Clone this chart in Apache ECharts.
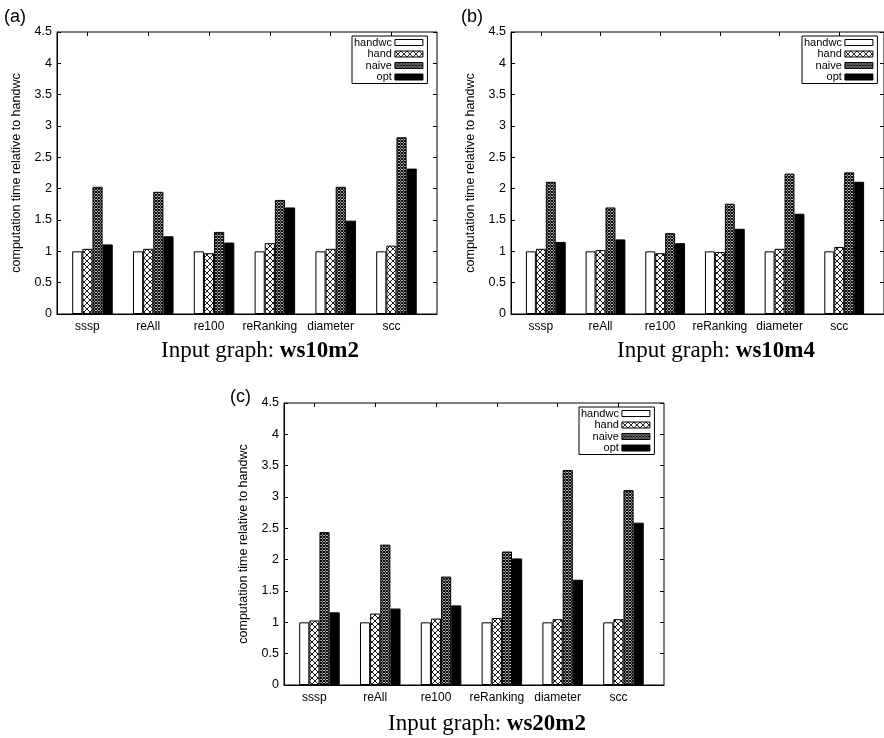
<!DOCTYPE html>
<html><head><meta charset="utf-8">
<script src="https://cdn.jsdelivr.net/npm/echarts@6/dist/echarts.min.js"></script>
<style>html,body{margin:0;padding:0;background:#fff}#c{width:884px;height:738px}</style>
</head><body><div id="c"></div>
<script>
// ---- data ----
const categories = ['sssp', 'reAll', 're100', 'reRanking', 'diameter', 'scc'];
const seriesNames = ['handwc', 'hand', 'naive', 'opt'];
const yTickMin = 0, yTickMax = 4.5, yTickStep = 0.5;
const panelLabels = ['(a)', '(b)', '(c)'];
const graphNames = ['ws10m2', 'ws10m4', 'ws20m2'];

const ws10m2_handwc = [1.00, 1.00, 1.00, 1.00, 1.00, 1.00];
const ws10m2_hand   = [1.04, 1.04, 0.97, 1.13, 1.04, 1.09];
const ws10m2_naive  = [2.03, 1.95, 1.31, 1.82, 2.03, 2.82];
const ws10m2_opt    = [1.11, 1.24, 1.14, 1.70, 1.49, 2.32];

const ws10m4_handwc = [1.00, 1.00, 1.00, 1.00, 1.00, 1.00];
const ws10m4_hand   = [1.04, 1.02, 0.97, 0.99, 1.04, 1.07];
const ws10m4_naive  = [2.11, 1.70, 1.29, 1.76, 2.24, 2.26];
const ws10m4_opt    = [1.15, 1.19, 1.13, 1.36, 1.60, 2.11];

const ws20m2_handwc = [1.00, 1.00, 1.00, 1.00, 1.00, 1.00];
const ws20m2_hand   = [1.03, 1.14, 1.06, 1.07, 1.05, 1.05];
const ws20m2_naive  = [2.44, 2.24, 1.73, 2.13, 3.43, 3.11];
const ws20m2_opt    = [1.16, 1.22, 1.27, 2.02, 1.68, 2.59];

const panelData = [
  [ws10m2_handwc, ws10m2_hand, ws10m2_naive, ws10m2_opt],
  [ws10m4_handwc, ws10m4_hand, ws10m4_naive, ws10m4_opt],
  [ws20m2_handwc, ws20m2_hand, ws20m2_naive, ws20m2_opt]
];

// ---- layout / style ----
const layout = [
  { left: 57,  top: 32,  label: [4, 17],   sub: [260, 351], legend: [352, 36] },
  { left: 511, top: 32,  label: [461, 17], sub: [716, 351], legend: [802, 36] },
  { left: 284, top: 403, label: [230, 397], sub: [487, 724], legend: [579, 407] }
];
const PW = 380, PH = 282;
const SANS = 'Liberation Sans, Arial, sans-serif';
const SERIF = 'Liberation Serif, Times New Roman, serif';

function makePattern(kind) {
  const c = document.createElement('canvas');
  const s = kind === 'hand' ? 6 : 3;
  c.width = s; c.height = s;
  const g = c.getContext('2d');
  g.fillStyle = '#fff'; g.fillRect(0, 0, s, s);
  g.strokeStyle = '#000';
  g.lineWidth = kind === 'hand' ? 0.9 : 1.1;
  g.beginPath();
  g.moveTo(0, 0); g.lineTo(s, s);
  g.moveTo(s, 0); g.lineTo(0, s);
  g.stroke();
  return { image: c, repeat: 'repeat' };
}
const fills = ['#ffffff', makePattern('hand'), makePattern('naive'), '#000000'];

const grid = [], xAxis = [], yAxis = [], series = [], legend = [], graphic = [];
const xTickVals = categories.map((_, i) => i);
const clusterShift = 1 / 12;

layout.forEach((L, p) => {
  grid.push({ left: L.left, top: L.top, width: PW, height: PH, show: true,
    borderColor: '#000', borderWidth: 1, backgroundColor: 'transparent', containLabel: false });
  // bottom x
  xAxis.push({ gridIndex: p, type: 'value', min: -0.5, max: 5.75, position: 'bottom',
    axisLine: { show: true, onZero: false, lineStyle: { color: '#000', width: 1 } },
    splitLine: { show: false },
    axisTick: { show: true, inside: true, length: 4, customValues: xTickVals, lineStyle: { color: '#000' } },
    axisLabel: { show: true, customValues: xTickVals, color: '#000', fontFamily: SANS, fontSize: 12, margin: 7,
      formatter: v => categories[Math.round(v)] }
  });
  // top mirror x
  xAxis.push({ gridIndex: p, type: 'value', min: -0.5, max: 5.75, position: 'top',
    axisLine: { show: false, onZero: false }, splitLine: { show: false },
    axisTick: { show: true, inside: true, length: 4, customValues: xTickVals, lineStyle: { color: '#000' } },
    axisLabel: { show: false }
  });
  yAxis.push({ gridIndex: p, type: 'value', min: yTickMin, max: yTickMax, interval: yTickStep, position: 'left',
    name: 'computation time relative to handwc', nameLocation: 'middle', nameRotate: 90, nameGap: 34,
    nameTextStyle: { color: '#000', fontFamily: SANS, fontSize: 12.5 },
    axisLine: { show: true, onZero: false, lineStyle: { color: '#000', width: 1 } },
    splitLine: { show: false },
    axisTick: { show: true, inside: true, length: 4, lineStyle: { color: '#000' } },
    axisLabel: { color: '#000', fontFamily: SANS, fontSize: 12.5, margin: 5 }
  });
  yAxis.push({ gridIndex: p, type: 'value', min: yTickMin, max: yTickMax, interval: yTickStep, position: 'right',
    axisLine: { show: false, onZero: false }, splitLine: { show: false },
    axisTick: { show: true, inside: true, length: 4, lineStyle: { color: '#000' } },
    axisLabel: { show: false }
  });
  seriesNames.forEach((nm, k) => {
    series.push({
      name: nm, type: 'bar', xAxisIndex: p * 2, yAxisIndex: p * 2,
      barWidth: '16.67%', barGap: '0%',
      itemStyle: { color: fills[k], borderColor: '#000', borderWidth: 1 },
      emphasis: { disabled: true },
      data: panelData[p][k].map((v, i) => [i + clusterShift, v])
    });
  });
  legend.push({
    left: L.legend[0], top: L.legend[1], orient: 'vertical', align: 'right',
    itemWidth: 28, itemHeight: 6, itemGap: 0.5, icon: 'rect',
    padding: [1, 4, 1, 2], borderColor: '#000', borderWidth: 1, backgroundColor: '#fff',
    selectedMode: false,
    textStyle: { color: '#000', fontFamily: SANS, fontSize: 11, lineHeight: 10, padding: [0, -2, 0, 0] },
    itemStyle: { borderColor: '#000', borderWidth: 1 },
    data: seriesNames
  });
  graphic.push({ type: 'text', x: L.label[0], y: L.label[1],
    style: { text: panelLabels[p], font: '18px ' + SANS, fill: '#000', verticalAlign: 'middle', align: 'left' } });
  graphic.push({ type: 'text', x: L.sub[0], y: L.sub[1],
    style: { text: '{n|Input graph: }{b|' + graphNames[p] + '}', align: 'center', verticalAlign: 'middle',
      rich: { n: { font: '23px ' + SERIF, fill: '#000' }, b: { font: 'bold 23px ' + SERIF, fill: '#000' } } } });
});

const chart = echarts.init(document.getElementById('c'), null, { renderer: 'canvas' });
chart.setOption({
  animation: false, backgroundColor: '#fff',
  grid, xAxis, yAxis, series, legend, graphic
});
</script></body></html>
